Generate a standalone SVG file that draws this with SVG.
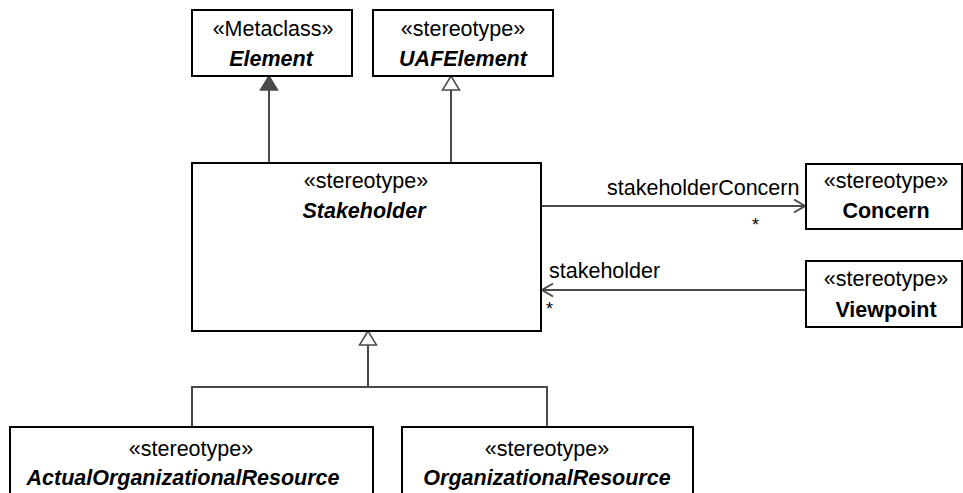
<svg xmlns="http://www.w3.org/2000/svg" width="963" height="493" viewBox="0 0 963 493">
  <style>
    .box { fill: #ffffff; stroke: #000000; stroke-width: 2; }
    .line { fill: none; stroke: #4a4a4a; stroke-width: 2; }
    .st { font-family: "Liberation Sans", Arial, sans-serif; font-size: 21.5px; fill: #000000; text-anchor: middle; }
    .nm { font-family: "Liberation Sans", Arial, sans-serif; font-size: 21.5px; font-weight: bold; fill: #000000; text-anchor: middle; }
    .it { font-style: italic; }
    .lbl { font-family: "Liberation Sans", Arial, sans-serif; font-size: 21.5px; fill: #000000; }
    .mult { font-family: "Liberation Sans", Arial, sans-serif; font-size: 18px; fill: #000000; }
  </style>
  <rect width="963" height="493" fill="#ffffff"/>

  <!-- connectors -->
  <g id="connectors">
    <!-- Stakeholder -> Element (filled head) -->
    <line class="line" x1="269" y1="163" x2="269" y2="90"/>
    <polygon points="269,76 260.5,90 277.5,90" fill="#4a4a4a" stroke="#4a4a4a" stroke-width="1.5"/>
    <!-- Stakeholder -> UAFElement (generalization) -->
    <line class="line" x1="451" y1="163" x2="451" y2="90"/>
    <polygon points="451,76 442.5,90 459.5,90" fill="#ffffff" stroke="#4a4a4a" stroke-width="1.5"/>
    <!-- children -> Stakeholder (generalization tree) -->
    <polyline class="line" points="192,427 192,387 547,387 547,427"/>
    <line class="line" x1="368" y1="387" x2="368" y2="345"/>
    <polygon points="368,331 359.5,345 376.5,345" fill="#ffffff" stroke="#4a4a4a" stroke-width="1.5"/>
    <!-- stakeholderConcern association -->
    <line class="line" x1="541" y1="206" x2="805" y2="206"/>
    <polyline class="line" points="794,199.5 805,206 794,212.5"/>
    <text class="lbl" x="607" y="195">stakeholderConcern</text>
    <text class="mult" x="752" y="231">*</text>
    <!-- stakeholder association -->
    <line class="line" x1="806" y1="290" x2="542" y2="290"/>
    <polyline class="line" points="553,283.5 542,290 553,296.5"/>
    <text class="lbl" x="549" y="278">stakeholder</text>
    <text class="mult" x="546" y="315">*</text>
  </g>

  <g id="element">
    <rect class="box" x="192" y="10" width="160" height="66"/>
    <text class="st" x="273" y="36">«Metaclass»</text>
    <text class="nm it" x="271" y="66">Element</text>
  </g>

  <g id="uafelement">
    <rect class="box" x="373" y="10" width="180" height="66"/>
    <text class="st" x="463" y="36">«stereotype»</text>
    <text class="nm it" x="463" y="66">UAFElement</text>
  </g>

  <g id="stakeholder">
    <rect class="box" x="192" y="163" width="349" height="168"/>
    <text class="st" x="366" y="188">«stereotype»</text>
    <text class="nm it" x="364" y="218">Stakeholder</text>
  </g>

  <g id="concern">
    <rect class="box" x="806" y="164" width="156" height="65"/>
    <text class="st" x="886" y="188">«stereotype»</text>
    <text class="nm" x="886" y="218">Concern</text>
  </g>

  <g id="viewpoint">
    <rect class="box" x="806" y="261" width="156" height="66"/>
    <text class="st" x="886" y="286">«stereotype»</text>
    <text class="nm" x="886" y="317">Viewpoint</text>
  </g>

  <g id="actualorganizationalresource">
    <rect class="box" x="10" y="427" width="363" height="80"/>
    <text class="st" x="191" y="456">«stereotype»</text>
    <text class="nm it" x="183" y="485">ActualOrganizationalResource</text>
  </g>

  <g id="organizationalresource">
    <rect class="box" x="402" y="427" width="291" height="80"/>
    <text class="st" x="547" y="456">«stereotype»</text>
    <text class="nm it" x="547" y="485">OrganizationalResource</text>
  </g>
</svg>
